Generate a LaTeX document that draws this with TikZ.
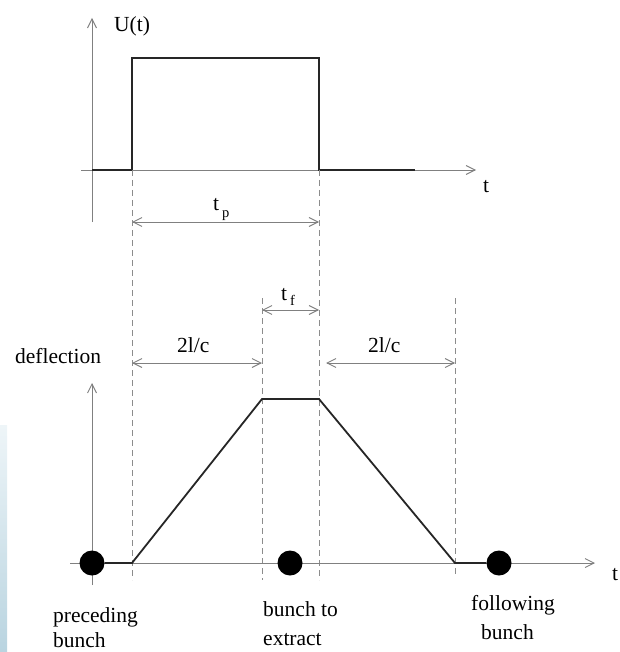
\documentclass[tikz,border=0pt]{standalone}
\usepackage{fontspec}
\setmainfont{Liberation Serif}
\usetikzlibrary{arrows.meta}
\definecolor{bartop}{RGB}{238,245,248}
\definecolor{barmid}{RGB}{122,172,194}
\definecolor{barbot}{RGB}{185,212,224}
\begin{document}
\begin{tikzpicture}[x=1pt,y=-1pt,
 axis/.style={draw=black!50, line width=0.9pt},
 axisarrow/.style={axis, -{Straight Barb[length=9pt,width=9pt]}},
 sig/.style={draw=black!85, line width=1.8pt, line join=miter},
 guide/.style={draw=black!45, line width=0.9pt, dash pattern=on 6pt off 4pt},
 dim/.style={draw=black!50, line width=0.9pt, {Straight Barb[length=9pt,width=9pt]}-{Straight Barb[length=9pt,width=9pt]}},
 ball/.style={circle, fill=black, inner sep=0pt, minimum size=25pt},
 lbl/.style={font=\fontsize{21.5}{24}\selectfont, inner sep=0pt, anchor=base west},
 sub/.style={font=\fontsize{14.5}{16}\selectfont, inner sep=0pt, anchor=base west},
]
\useasboundingbox (0,0) rectangle (619,652);
% side bar
\shade[top color=bartop, middle color=barmid, bottom color=barbot] (0,425) rectangle (7,652);

% ---------- top plot ----------
\coordinate (ua0) at (92,222);
\coordinate (ua1) at (92,18);
\coordinate (uh0) at (81,170);
\coordinate (uh1) at (476,170);
\coordinate (p0) at (92,170);
\coordinate (p1) at (132,170);
\coordinate (p2) at (132,58);
\coordinate (p3) at (319,58);
\coordinate (p4) at (319,170);
\coordinate (p5) at (415,170);
\draw[axisarrow] (ua0) -- (ua1);
\draw[axisarrow] (uh0) -- (uh1);
\draw[sig] (p0) -- (p1) -- (p2) -- (p3) -- (p4) -- (p5);
\node[lbl] (U) at (114,32) {U(t)};
\node[lbl] (ttop) at (483,193) {t};

% ---------- guides ----------
\coordinate (g1a) at (132,170); \coordinate (g1b) at (132,580);
\coordinate (g2a) at (319,170); \coordinate (g2b) at (319,580);
\coordinate (g3a) at (262,298); \coordinate (g3b) at (262,580);
\coordinate (g4a) at (455,298); \coordinate (g4b) at (455,575);
\draw[guide] (g1a) -- (g1b);
\draw[guide] (g2a) -- (g2b);
\draw[guide] (g3a) -- (g3b);
\draw[guide] (g4a) -- (g4b);

% ---------- dimensions ----------
\coordinate (tpa) at (132,222); \coordinate (tpb) at (319,222);
\coordinate (tfa) at (262,310); \coordinate (tfb) at (319,310);
\coordinate (l1a) at (132,363); \coordinate (l1b) at (262,363);
\coordinate (l2a) at (326,363); \coordinate (l2b) at (455,363);
\draw[dim] (tpa) -- (tpb);
\draw[dim] (tfa) -- (tfb);
\draw[dim] (l1a) -- (l1b);
\draw[dim] (l2a) -- (l2b);
\node[lbl] (tp) at (213,211) {t};
\node[sub] (tpsub) at (222,218) {p};
\node[lbl] (tf) at (281,300) {t};
\node[sub] (tfsub) at (290,305) {f};
\node[lbl] (l1) at (177,352) {2l/c};
\node[lbl] (l2) at (368,352) {2l/c};

% ---------- bottom plot ----------
\coordinate (da0) at (92,585);
\coordinate (da1) at (92,383);
\coordinate (dh0) at (70,563);
\coordinate (dh1) at (595,563);
\draw[axisarrow] (da0) -- (da1);
\draw[axisarrow] (dh0) -- (dh1);
\node[lbl] (defl) at (15,363) {deflection};
\node[lbl] (tbot) at (612,580) {t};

\node[ball] (b1) at (92,563) {};
\node[ball] (b2) at (290,563) {};
\node[ball] (b3) at (499,563) {};

\coordinate (d1) at (132,563);
\coordinate (d2) at (262,399);
\coordinate (d3) at (319,399);
\coordinate (d4) at (455,563);
\draw[sig] (b1) -- (d1) -- (d2) -- (d3) -- (d4) -- (b3);

\node[lbl] (pre1) at (53,622) {preceding};
\node[lbl] (pre2) at (53,647) {bunch};
\node[lbl] (ext1) at (263,616) {bunch to};
\node[lbl] (ext2) at (263,645) {extract};
\node[lbl] (fol1) at (471,610) {following};
\node[lbl] (fol2) at (481,639) {bunch};
\end{tikzpicture}
\end{document}
